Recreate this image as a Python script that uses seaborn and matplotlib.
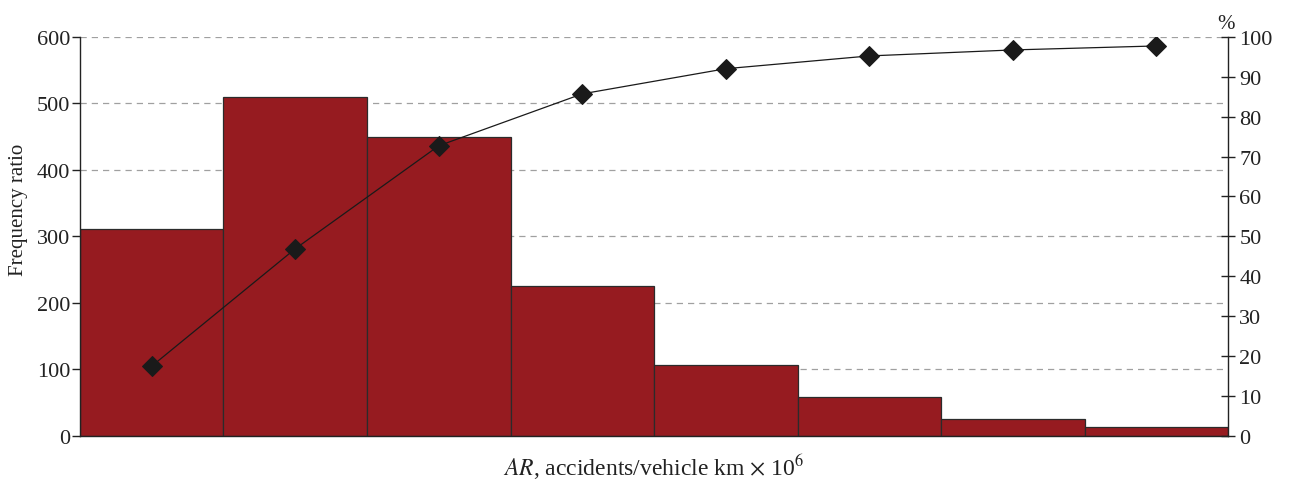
import pandas as pd
import seaborn as sns
import matplotlib.pyplot as plt
import numpy as np

# Histogram of accident rates with cumulative percentage (Pareto style)
bins = ['b1', 'b2', 'b3', 'b4', 'b5', 'b6', 'b7', 'b8']
freq = [311, 510, 450, 225, 107, 59, 26, 14]
cum_pct = [17.5, 46.9, 72.7, 85.7, 92.0, 95.2, 96.7, 97.7]

df = pd.DataFrame({'bin': bins, 'freq': freq, 'cum': cum_pct})

sns.set_style('white')
plt.rcParams['font.family'] = ['Liberation Serif', 'DejaVu Serif']
plt.rcParams['mathtext.fontset'] = 'stix'

fig = plt.figure(figsize=(12.96, 4.81), dpi=100)
ax = fig.add_axes([0.0617, 0.0915, 0.886, 0.83])

sns.barplot(data=df, x='bin', y='freq', color='#961b20', saturation=1,
            width=1.0, edgecolor='#2b2b2b', linewidth=0.9, ax=ax, zorder=2)
ax.set_xlim(-0.5, len(bins) - 0.5)
ax.set_ylim(0, 600)
ax.set_yticks(range(0, 601, 100))
ax.set_xticks(np.arange(-0.5, len(bins), 1.0))
ax.set_xticklabels([])
ax.yaxis.grid(True, linestyle=(0, (5, 4)), color='#a0a0a0', linewidth=0.9, zorder=0)
ax.set_axisbelow(True)
ax.tick_params(axis='y', direction='out', length=6, width=1, labelsize=16, colors='#222222', pad=1)
ax.tick_params(axis='x', direction='out', length=6, width=1, colors='#222222')
ax.set_ylabel('Frequency ratio', fontsize=15, color='#222222')
ax.yaxis.set_label_coords(-0.045, 0.57)
ax.set_xlabel(r'$AR$, accidents/vehicle km $\times$ 10$^6$', fontsize=17, color='#222222', labelpad=2)
for s in ['left', 'bottom']:
    ax.spines[s].set_color('#222222')
    ax.spines[s].set_linewidth(1)
ax.spines['top'].set_visible(False)
ax.spines['right'].set_visible(False)

ax2 = ax.twinx()
sns.lineplot(x=np.arange(len(bins)), y=df['cum'], ax=ax2, color='#1a1a1a',
             linewidth=0.9, marker='D', markersize=10, markeredgecolor='#1a1a1a')
ax2.set_ylim(0, 100)
ax2.set_yticks(range(0, 101, 10))
ax2.set_ylabel('')
ax2.tick_params(axis='y', direction='inout', length=10, width=1, labelsize=16, colors='#222222', pad=3)
ax2.spines['right'].set_color('#222222')
ax2.spines['right'].set_linewidth(1)
for s in ['top', 'left', 'bottom']:
    ax2.spines[s].set_visible(False)
ax2.text(0.998, 1.01, '%', transform=ax2.transAxes, ha='center', va='bottom',
         fontsize=15, color='#222222')

fig.savefig('out.png', dpi=100)
